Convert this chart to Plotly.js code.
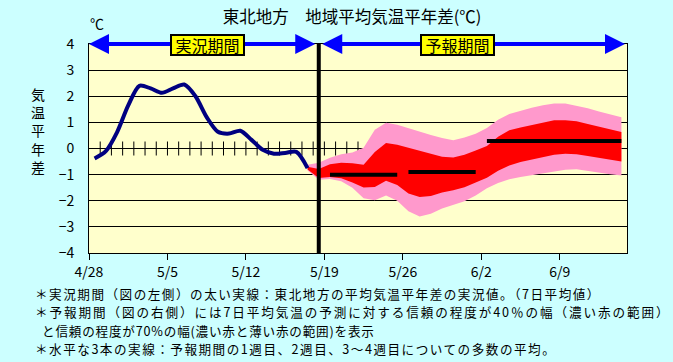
<!DOCTYPE html>
<html>
<head>
<meta charset="utf-8">
<script src="https://cdn.plot.ly/plotly-3.0.1.min.js"></script>
<style>
  html, body { margin: 0; padding: 0; background: #CCFFFF; }
  #chart { width: 673px; height: 362px; }
</style>
</head>
<body>
<div id="chart"></div>
<script>
// ---------- data ----------
const axisStart = '2024-04-28';
const axisEnd = '2024-06-15';
const tickDates = ['2024-04-28', '2024-05-05', '2024-05-12', '2024-05-19', '2024-05-26', '2024-06-02', '2024-06-09'];
const tickLabels = ['4/28', '5/5', '5/12', '5/19', '5/26', '6/2', '6/9'];

// observed 7-day mean anomaly (°C), daily from 4/28
const obsStart = '2024-04-28';
const obsValues = [-0.38, -0.10, 0.62, 1.65, 2.40, 2.30, 2.13, 2.30, 2.45, 2.00,
                   1.20, 0.64, 0.57, 0.68, 0.33, -0.05, -0.20, -0.17, -0.13, -0.75];

// forecast bands, daily from 5/17
const bandStart = '2024-05-17';
const pinkTop = [-0.62, -0.55, -0.35, -0.22, -0.15, 0.03, 0.72, 0.99, 0.91, 0.77,
                 0.63, 0.52, 0.40, 0.32, 0.42, 0.56, 0.78, 1.10, 1.32, 1.45,
                 1.56, 1.66, 1.72, 1.72, 1.64, 1.54, 1.42, 1.31, 1.20];
const redTop = [-0.70, -0.78, -0.60, -0.55, -0.56, -0.62, -0.13, 0.21, 0.14, 0.02,
                -0.09, -0.20, -0.32, -0.34, -0.24, -0.08, 0.10, 0.45, 0.70, 0.80,
                0.90, 1.00, 1.08, 1.08, 1.04, 0.94, 0.84, 0.73, 0.63];
const redBottom = [-0.80, -1.13, -1.09, -1.14, -1.30, -1.49, -1.47, -1.23, -1.40, -1.72,
                   -1.86, -1.82, -1.68, -1.60, -1.48, -1.30, -1.12, -0.85, -0.65, -0.52,
                   -0.42, -0.32, -0.24, -0.20, -0.22, -0.29, -0.36, -0.43, -0.50];
const pinkBottom = [-0.84, -1.20, -1.17, -1.25, -1.50, -1.90, -1.98, -1.80, -2.00, -2.40,
                    -2.60, -2.50, -2.30, -2.15, -2.02, -1.80, -1.52, -1.32, -1.18, -1.09,
                    -1.02, -0.95, -0.87, -0.81, -0.79, -0.86, -0.93, -0.99, -1.03];

// weekly ensemble means: first day, last day, value
const weekStarts = ['2024-05-19', '2024-05-26', '2024-06-02'];
const weekEnds   = ['2024-05-25', '2024-06-01', '2024-06-14'];
const weekMeans  = [-1.00, -0.90, 0.29];

const yTickVals = [4, 3, 2, 1, 0, -1, -2, -3, -4];
const titleText = '東北地方　地域平均気温平年差(℃)';
const notes = [
  '＊実況期間（図の左側）の太い実線：東北地方の平均気温平年差の実況値。（7日平均値）',
  '＊予報期間（図の右側）には7日平均気温の予測に対する信頼の程度が40％の幅（濃い赤の範囲）',
  'と信頼の程度が70%の幅(濃い赤と薄い赤の範囲)を表示',
  '＊水平な3本の実線：予報期間の1週目、2週目、3～4週目についての多数の平均。'
];

// ---------- helpers ----------
function addDays(iso, n) {
  const d = new Date(iso + 'T00:00:00Z');
  d.setUTCDate(d.getUTCDate() + n);
  return d.toISOString().slice(0, 10);
}
function noon(iso) { return iso + ' 12:00'; }
function seriesDates(start, n) {
  const out = [];
  for (let i = 0; i < n; i++) out.push(noon(addDays(start, i)));
  return out;
}

const FONT = '"Noto Sans CJK JP", "Noto Sans", sans-serif';
const L = 89, R = 46, T = 44, B = 109, W = 673, H = 362;
const PW = W - L - R, PH = H - T - B;
const px = x => (x - L) / PW;
const py = y => (H - B - y) / PH;

const obsX = seriesDates(obsStart, obsValues.length);
const bandX = seriesDates(bandStart, pinkTop.length);

// day-boundary ticks on the zero line
const zeroTickX = [];
for (let d = 1; d < 48; d++) zeroTickX.push(addDays(axisStart, d));

const traces = [];
traces.push({
  x: zeroTickX, y: zeroTickX.map(() => 0), mode: 'markers', type: 'scatter',
  marker: { symbol: 'line-ns', size: 10, line: { width: 1, color: '#000' }, color: '#000' },
  hoverinfo: 'skip'
});
traces.push({ x: bandX, y: pinkBottom, mode: 'lines', line: { width: 0, color: '#FF99CC' }, type: 'scatter' });
traces.push({ x: bandX, y: pinkTop, mode: 'lines', line: { width: 0, color: '#FF99CC' }, fill: 'tonexty', fillcolor: '#FF99CC', type: 'scatter' });
traces.push({ x: bandX, y: redBottom, mode: 'lines', line: { width: 0, color: '#FF0000' }, type: 'scatter' });
traces.push({ x: bandX, y: redTop, mode: 'lines', line: { width: 0, color: '#FF0000' }, fill: 'tonexty', fillcolor: '#FF0000', type: 'scatter' });
for (let k = 0; k < weekMeans.length; k++) {
  traces.push({
    x: [noon(weekStarts[k]), noon(weekEnds[k])], y: [weekMeans[k], weekMeans[k]],
    mode: 'lines', type: 'scatter', line: { color: '#000', width: 4 }
  });
}
traces.push({
  x: obsX, y: obsValues, mode: 'lines', type: 'scatter',
  line: { color: '#000080', width: 4, shape: 'spline', smoothing: 0.8 }
});

const split = '2024-05-18 12:00';

const annotations = [
  { x: axisStart, y: 4, ax: split, ay: 4, xref: 'x', yref: 'y', axref: 'x', ayref: 'y',
    text: '', showarrow: true, arrowside: 'end+start', arrowhead: 2, startarrowhead: 2,
    arrowsize: 1, startarrowsize: 1, arrowwidth: 4, arrowcolor: '#0000FF', standoff: 0, startstandoff: 2 },
  { x: axisEnd, y: 4, ax: split, ay: 4, xref: 'x', yref: 'y', axref: 'x', ayref: 'y',
    text: '', showarrow: true, arrowside: 'end+start', arrowhead: 2, startarrowhead: 2,
    arrowsize: 1, startarrowsize: 1, arrowwidth: 4, arrowcolor: '#0000FF', standoff: 2, startstandoff: 2 },
  { x: px(207), y: py(45.5), xref: 'paper', yref: 'paper', text: '実況期間', showarrow: false,
    font: { family: FONT, size: 16, color: '#000' }, bgcolor: '#FFFF00', bordercolor: '#000',
    borderwidth: 2, borderpad: 0, width: 71, height: 18, xanchor: 'center', yanchor: 'middle' },
  { x: px(457), y: py(45.5), xref: 'paper', yref: 'paper', text: '予報期間', showarrow: false,
    font: { family: FONT, size: 16, color: '#000' }, bgcolor: '#FFFF00', bordercolor: '#000',
    borderwidth: 2, borderpad: 0, width: 71, height: 18, xanchor: 'center', yanchor: 'middle' },
  { x: px(97), y: py(23), xref: 'paper', yref: 'paper', text: '℃', showarrow: false,
    font: { family: FONT, size: 14, color: '#000' }, xanchor: 'center', yanchor: 'middle' },
  { x: px(38), y: py(130), xref: 'paper', yref: 'paper', text: '気<br>温<br>平<br>年<br>差', showarrow: false,
    font: { family: FONT, size: 14, color: '#000' }, xanchor: 'center', yanchor: 'middle' }
];

// footnotes: one text per line, spaced so their boxes do not overlap
const noteY = [293, 311.5, 330, 348.5];
const noteX = [34, 34, 41, 34];
const noteSpacing = [1.5, 1.9, 0.8, 1.5];
notes.forEach((t, i) => annotations.push({
  x: px(noteX[i]), y: py(noteY[i]), xref: 'paper', yref: 'paper',
  text: '<span style="letter-spacing:' + noteSpacing[i] + 'px">' + t + '</span>',
  showarrow: false, font: { family: FONT, size: 12.6, color: '#000' }, borderpad: 0,
  xanchor: 'left', yanchor: 'middle'
}));

const layout = {
  width: W, height: H,
  margin: { l: L, r: R, t: T, b: B, pad: 0 },
  paper_bgcolor: '#CCFFFF', plot_bgcolor: '#FFFFCC',
  showlegend: false,
  font: { family: FONT, size: 13, color: '#000' },
  title: { text: titleText, x: px(352), xref: 'paper', xanchor: 'center', y: 1 - 17 / H, yref: 'container', yanchor: 'middle',
           font: { family: FONT, size: 16.5, color: '#000' } },
  xaxis: {
    type: 'date', range: [axisStart, axisEnd], tickvals: tickDates, ticktext: tickLabels,
    showgrid: false, zeroline: false, showline: true, linecolor: '#000', linewidth: 1, mirror: true,
    ticks: 'outside', ticklen: 6, tickcolor: '#000', tickfont: { family: FONT, size: 14 }
  },
  yaxis: {
    range: [-4, 4], tickvals: yTickVals, showgrid: true, gridcolor: '#000', gridwidth: 1,
    zeroline: true, zerolinecolor: '#000', zerolinewidth: 1,
    showline: true, linecolor: '#000', linewidth: 1, mirror: true,
    ticks: 'outside', ticklen: 11, tickcolor: 'rgba(0,0,0,0)', tickfont: { family: FONT, size: 14 }
  },
  shapes: [
    { type: 'line', xref: 'x', yref: 'y', x0: split, x1: split, y0: -4, y1: 4, line: { color: '#000', width: 4 }, layer: 'above' }
  ],
  annotations: annotations
};

Plotly.newPlot('chart', traces, layout, { displayModeBar: false, staticPlot: true });
</script>
</body>
</html>
